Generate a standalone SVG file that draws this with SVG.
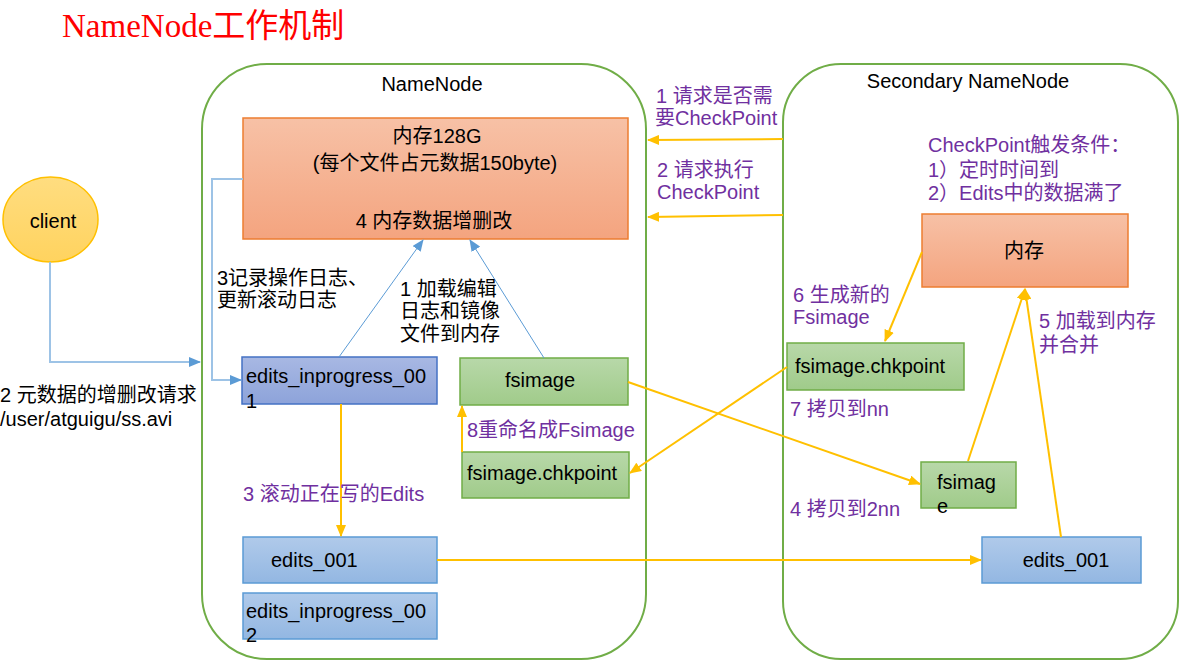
<svg xmlns="http://www.w3.org/2000/svg" width="1180" height="661" viewBox="0 0 1180 661">
<style>
text{font-family:"Liberation Sans","Noto Sans CJK SC",sans-serif;font-size:20px;fill:#000}
.p{fill:#7030A0}
.c{text-anchor:middle}
.cont{fill:none;stroke:#70AD47;stroke-width:2}
.g{fill:url(#gg);stroke:#70AD47;stroke-width:1.5}
.b{fill:url(#gb);stroke:#5B9BD5;stroke-width:1.5}
.b2{fill:url(#gb2);stroke:#4472C4;stroke-width:1.5}
.o{fill:url(#go);stroke:#ED7D31;stroke-width:1.5}
.ol{fill:none;stroke:#FFC000;stroke-width:2;marker-end:url(#ao)}
.ol0{fill:none;stroke:#FFC000;stroke-width:2}
.bl{fill:none;stroke:#9DC3E6;stroke-width:2;marker-end:url(#ab)}
.bl2{fill:none;stroke:#5B9BD5;stroke-width:1;marker-end:url(#ab)}
</style>
<defs>
<linearGradient id="go" x1="0" y1="0" x2="0" y2="1"><stop offset="0" stop-color="#F7C1A6"/><stop offset="1" stop-color="#F4A47F"/></linearGradient>
<linearGradient id="gg" x1="0" y1="0" x2="0" y2="1"><stop offset="0" stop-color="#B8D8A9"/><stop offset="1" stop-color="#A0CB8A"/></linearGradient>
<linearGradient id="gb" x1="0" y1="0" x2="0" y2="1"><stop offset="0" stop-color="#B0CAEA"/><stop offset="1" stop-color="#93B7E2"/></linearGradient>
<linearGradient id="gb2" x1="0" y1="0" x2="0" y2="1"><stop offset="0" stop-color="#A8B8E3"/><stop offset="1" stop-color="#8DA3DA"/></linearGradient>
<linearGradient id="gc" x1="0" y1="0" x2="0" y2="1"><stop offset="0" stop-color="#FFDD80"/><stop offset="1" stop-color="#FFD35F"/></linearGradient>
<marker id="ao" markerUnits="userSpaceOnUse" markerWidth="12" markerHeight="10" refX="11" refY="5" orient="auto"><path d="M0,0 L12,5 L0,10 z" fill="#FFC000"/></marker>
<marker id="ab" markerUnits="userSpaceOnUse" markerWidth="12" markerHeight="10" refX="11" refY="5" orient="auto"><path d="M0,0 L12,5 L0,10 z" fill="#5B9BD5"/></marker>
</defs>

<text x="62" y="37" style="font-family:'Liberation Serif','Noto Sans CJK SC',serif;font-size:33px;fill:#FF0000">NameNode工作机制</text>

<g id="namenode">
<rect class="cont" x="202" y="64" width="444" height="595" rx="65" ry="65"/>
<text class="c" x="432" y="91">NameNode</text>
</g>
<g id="secondary-namenode">
<rect class="cont" x="783" y="64" width="395" height="595" rx="58" ry="58"/>
<text class="c" x="968" y="88">Secondary NameNode</text>
</g>

<g id="client">
<ellipse cx="50.5" cy="219.5" rx="47.5" ry="42.5" fill="url(#gc)" stroke="#FFC000" stroke-width="1.5"/>
<text class="c" x="53" y="228">client</text>
</g>

<g id="nn-memory">
<rect class="o" x="243" y="118" width="385" height="121"/>
<text class="c" x="437" y="143">内存128G</text>
<text class="c" x="435" y="170">(每个文件占元数据150byte)</text>
<text class="c" x="434" y="228">4 内存数据增删改</text>
</g>

<g id="nn-edits-inprogress-001">
<rect class="b2" x="242" y="357" width="195" height="47"/>
<text x="246" y="383">edits_inprogress_00</text>
<text x="246" y="408">1</text>
</g>

<g id="nn-fsimage">
<rect class="g" x="460" y="358" width="168" height="47"/>
<text class="c" x="540" y="387">fsimage</text>
</g>

<g id="nn-fsimage-chkpoint">
<rect class="g" x="462" y="452" width="167" height="46"/>
<text x="467" y="480">fsimage.chkpoint</text>
</g>

<g id="nn-edits-001">
<rect class="b" x="243" y="537" width="194" height="46"/>
<text x="271" y="567">edits_001</text>
</g>

<g id="nn-edits-inprogress-002">
<rect class="b" x="243" y="593" width="194" height="46"/>
<text x="246" y="618">edits_inprogress_00</text>
<text x="246" y="642">2</text>
</g>

<g id="snn-memory">
<rect class="o" x="922" y="214" width="206" height="73"/>
<text class="c" x="1024" y="258">内存</text>
</g>

<g id="snn-fsimage-chkpoint">
<rect class="g" x="787" y="343" width="177" height="47"/>
<text x="795" y="373">fsimage.chkpoint</text>
</g>

<g id="snn-fsimage">
<rect class="g" x="921" y="462" width="95" height="46"/>
<text x="937" y="489">fsimag</text>
<text x="937" y="513">e</text>
</g>

<g id="snn-edits-001">
<rect class="b" x="982" y="537" width="159" height="46"/>
<text class="c" x="1066" y="567">edits_001</text>
</g>

<g id="connectors">
<polyline class="bl" points="50,262 50,362 200,362"/>
<polyline class="bl" points="243,179 212,179 212,380 241,380"/>
<line class="bl2" x1="339" y1="357" x2="423" y2="240"/>
<line class="bl2" x1="544" y1="358" x2="470" y2="240"/>
<line class="ol" x1="783" y1="139" x2="648" y2="140"/>
<line class="ol" x1="783" y1="215" x2="648" y2="217"/>
<line class="ol" x1="341" y1="404" x2="341" y2="536"/>
<line class="ol" x1="462" y1="452" x2="462" y2="406"/>
<line class="ol" x1="437" y1="560" x2="981" y2="560"/>
<line class="ol" x1="628" y1="382" x2="920" y2="484"/>
<line class="ol" x1="787" y1="367" x2="630" y2="473"/>
<line class="ol" x1="922" y1="252" x2="885" y2="341"/>
<line class="ol" x1="968" y1="461" x2="1025" y2="289"/>
<line class="ol" x1="1061" y1="537" x2="1025" y2="289"/>
</g>

<g id="labels">
<text x="0" y="402">2 元数据的增删改请求</text>
<text x="0" y="426">/user/atguigu/ss.avi</text>
<text x="217" y="285">3记录操作日志、</text>
<text x="217" y="307">更新滚动日志</text>
<text x="400" y="296">1 加载编辑</text>
<text x="400" y="318">日志和镜像</text>
<text x="400" y="341">文件到内存</text>
<text class="p" x="467" y="437">8重命名成Fsimage</text>
<text class="p" x="243" y="501">3 滚动正在写的Edits</text>
<text class="p" x="656" y="103">1 请求是否需</text>
<text class="p" x="655" y="125">要CheckPoint</text>
<text class="p" x="657" y="177">2 请求执行</text>
<text class="p" x="657" y="199">CheckPoint</text>
<text class="p" x="928" y="152">CheckPoint触发条件：</text>
<text class="p" x="928" y="177">1）定时时间到</text>
<text class="p" x="928" y="200">2）Edits中的数据满了</text>
<text class="p" x="793" y="302">6 生成新的</text>
<text class="p" x="793" y="324">Fsimage</text>
<text class="p" x="1039" y="328">5 加载到内存</text>
<text class="p" x="1039" y="352">并合并</text>
<text class="p" x="790" y="416">7 拷贝到nn</text>
<text class="p" x="790" y="516">4 拷贝到2nn</text>
</g>
</svg>
